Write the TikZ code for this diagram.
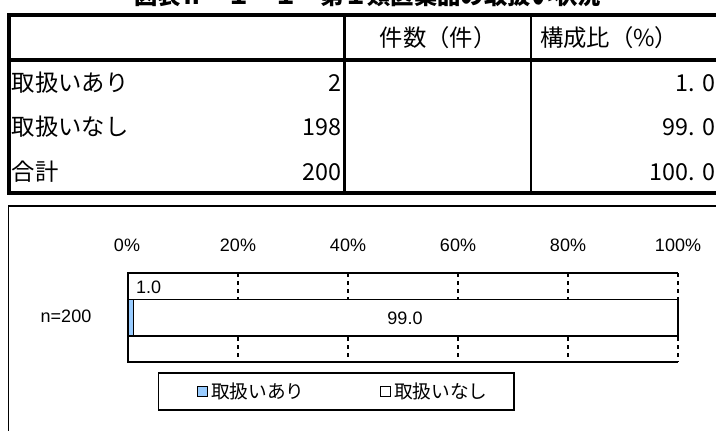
\documentclass[tikz,border=0pt]{standalone}
\usepackage{fontspec}
\setmainfont{Noto Sans CJK JP}
\newfontfamily\jp{Noto Sans CJK JP}
\newfontfamily\numf{Noto Sans CJK JP}
\newfontfamily\lat{Liberation Sans}
\definecolor{barblue}{RGB}{153,204,255}
\begin{document}
\begin{tikzpicture}[x=0.75pt,y=-0.75pt,
  txt/.style={inner sep=0pt, outer sep=0pt},
  celltxt/.style={txt, font=\jp\fontsize{17.5pt}{17.5pt}\selectfont},
  numtxt/.style={txt, font=\numf\fontsize{17.5pt}{17.5pt}\selectfont},
  axtxt/.style={txt, font=\lat\fontsize{13.5pt}{13.5pt}\selectfont},
  legtxt/.style={txt, font=\jp\fontsize{14pt}{14pt}\selectfont},
  thickrule/.style={line width=4pt*0.75},
  gridline/.style={line width=2pt*0.75, dash pattern=on 3pt off 3pt},
  frameline/.style={line width=1.5pt*0.75}]
\useasboundingbox (0,0) rectangle (716,430);
% title (cut off at the top, as in the reference)
\node[txt, anchor=base west, font=\jp\bfseries\fontsize{17.5pt}{17.5pt}\selectfont] (title) at (134,4.5) {図表Ⅱ－１－１　第１類医薬品の取扱い状況};
% table
\draw[thickrule] (730,15) -- (9,15) -- (9,193) -- (730,193);
\draw[thickrule] (9,60) -- (730,60);
\draw[line width=3.5pt*0.75] (344.5,15) -- (344.5,193);
\draw[line width=2pt*0.75] (531,15) -- (531,193);
\node[celltxt] (h1) at (438,38) {件数（件）};
\node[celltxt, anchor=west] (h2) at (540,38) {構成比（\%）};
\node[celltxt, anchor=west] (r1) at (12,83) {取扱いあり};
\node[celltxt, anchor=west] (r2) at (12,127) {取扱いなし};
\node[celltxt, anchor=west] (r3) at (12,172) {合計};
\node[numtxt, anchor=east] (n1) at (341,83) {2};
\node[numtxt, anchor=east] (n2) at (341,127) {198};
\node[numtxt, anchor=east] (n3) at (341,172) {200};
\node[numtxt, anchor=east] (p1) at (715,83) {1.\hspace{0.3em}0};
\node[numtxt, anchor=east] (p2) at (715,127) {99.\hspace{0.3em}0};
\node[numtxt, anchor=east] (p3) at (715,172) {100.\hspace{0.3em}0};
% chart box
\draw[frameline] (730,206) -- (8.5,206) -- (8.5,440);
% axis labels
\foreach \v/\x in {0/127,20/238,40/348,60/458,80/568,100/678}
  \node[axtxt] (ax\v) at (\x,245) {\v\%};
% gridlines
\foreach \x in {238,348,458,568,678}
  \draw[gridline] (\x,273) -- (\x,362);
% plot frame
\draw[frameline] (678,273) -- (128,273) -- (128,362) -- (678,362);
% bars
\draw[frameline, fill=white] (133.5,299.5) rectangle (678,336);
\draw[frameline, fill=barblue] (128,299.5) rectangle (133.5,336);
\node[axtxt, anchor=west] (l1) at (136,287) {1.0};
\node[axtxt] (l2) at (405,318) {99.0};
\node[axtxt] (cat) at (66,316) {n=200};
% legend
\draw[frameline] (158.5,373) rectangle (514,410);
\draw[line width=1pt*0.75, fill=barblue] (197,386) rectangle (207.5,396.5);
\node[legtxt, anchor=west] (lg1) at (211,391.5) {取扱いあり};
\draw[line width=1pt*0.75, fill=white] (380,386) rectangle (390.5,396.5);
\node[legtxt, anchor=west] (lg2) at (394,391.5) {取扱いなし};
\end{tikzpicture}
\end{document}
